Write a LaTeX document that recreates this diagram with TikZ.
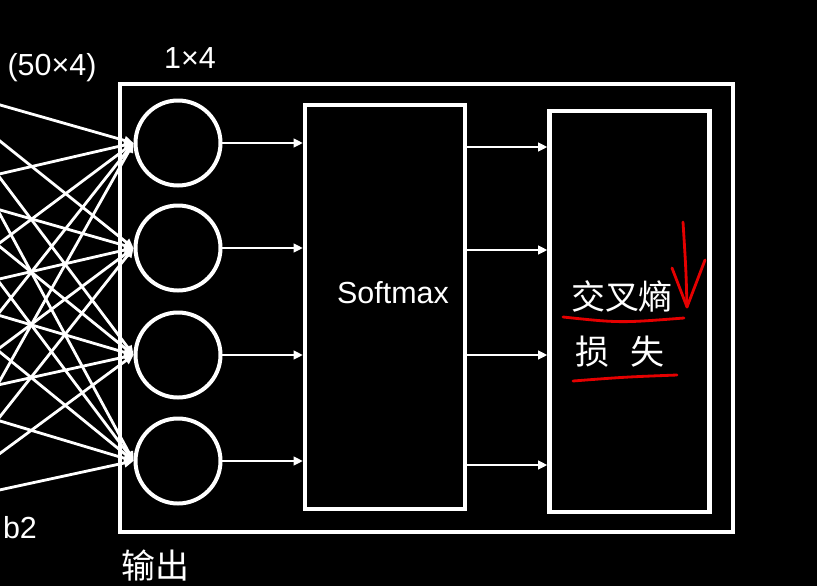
\documentclass[tikz,border=0pt]{standalone}
\usepackage{fontspec}
\setmainfont{Liberation Sans}
\newfontfamily\cjk{Noto Sans CJK SC}
\usetikzlibrary{arrows.meta,positioning}

\begin{document}
\begin{tikzpicture}[x=0.03cm,y=-0.03cm,
  font=\fontsize{26}{30}\selectfont,
  neuron/.style={circle,draw=white,line width=3.4pt,minimum size=2.55cm,inner sep=0pt},
  block/.style={rectangle,draw=white,line width=3.6pt,minimum width=4.8cm,minimum height=12.1cm,text=white},
  arr/.style={-{Triangle[length=2.8mm,width=2.6mm]},line width=2.4pt,white},
  hand/.style={red!90!black,line width=2.4pt,line cap=round,line join=round},
  lbl/.style={text=white,inner sep=0pt}]

  % page
  \clip (0,0) rectangle (817,586);
  \fill[black] (0,0) rectangle (817,586);

  % outer frame
  \node[draw=white,line width=3.6pt,minimum width=18.39cm,minimum height=13.44cm] (frame) at (426.5,308) {};

  % output neurons
  \foreach \i/\y in {1/143,2/248,3/355,4/461}
    \node[neuron] (o\i) at (178,\y) {};

  % softmax and loss
  \node[block] (sm) at (385,307) {};
  \node[lbl] (smtxt) at (393,293) {Softmax};
  \node[block,minimum height=12.05cm] (ce) at (629.5,311.5) {};
  \node[lbl,font=\cjk\fontsize{29}{32}\selectfont] (ce1) at (622,296) {交叉熵};
  \node[lbl,font=\cjk\fontsize{29}{32}\selectfont] (ce2) at (620,352) {损\hspace{0.6em}失};

  % hidden units (off page)
  \foreach \s/\y in {1/85,2/190,3/295,4/400,5/505}
    \coordinate (h\s) at (-70,\y);
  \foreach \s in {1,...,5}
    \foreach \i in {1,...,4}
      \draw[arr] (h\s) -- (o\i.west);

  \foreach \i in {1,...,4}
    \draw[arr] (o\i.east) -- (sm.west |- o\i.east);
  \foreach \y in {147,250,355,465}
    \draw[arr] (sm.east |- 0,\y) -- (ce.west |- 0,\y);

  % labels
  \node[lbl] (w2) at (52,68) {(50×4)};
  \node[lbl] (z2) at (190,58) {1×4};
  \node[lbl] (b2) at (20,528) {b2};
  \node[lbl,anchor=west,font=\cjk\fontsize{29}{32}\selectfont] (out) at (121,566) {输出};

  % red marks
  \draw[hand] (563,317) .. controls (620,323) .. (684,318);
  \draw[hand] (573,381) .. controls (625,377) .. (677,375);
  \draw[hand] (683,222) .. controls (686,270) .. (687,307);
  \draw[hand] (672,268) -- (687,307) -- (705,260);
\end{tikzpicture}
\end{document}
